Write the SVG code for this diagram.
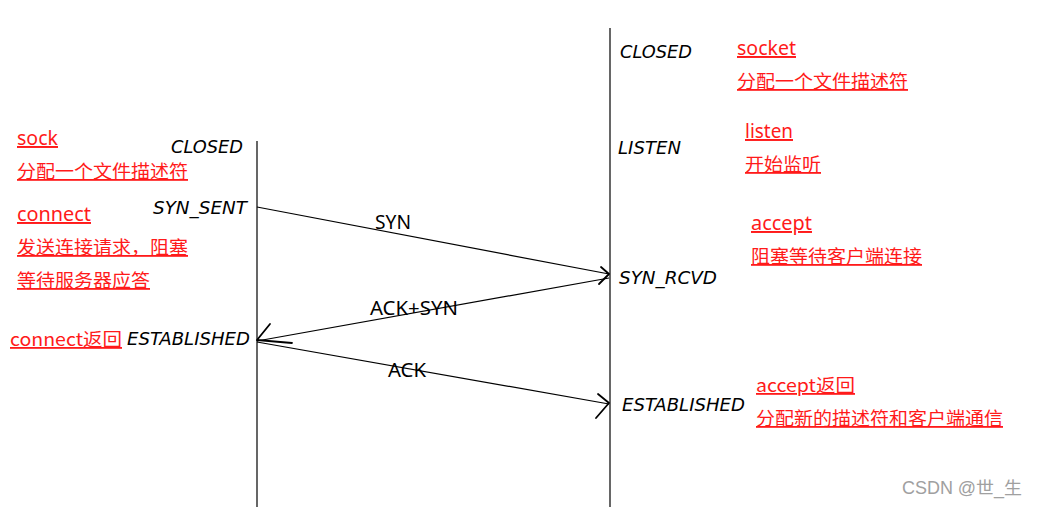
<svg xmlns="http://www.w3.org/2000/svg" width="1038" height="507" viewBox="0 0 1038 507">
<style>
.st{font-family:"DejaVu Sans","Liberation Sans",sans-serif;font-style:italic;font-size:17px;fill:#000}
.rd{font-family:"Noto Sans CJK SC","Noto Sans",sans-serif;font-size:18px;fill:#ff1a1a;text-decoration:underline}
.rl{font-family:"Noto Sans","Noto Sans CJK SC",sans-serif;font-size:19.5px;fill:#ff1a1a;text-decoration:underline}
.lb{font-family:"Noto Sans","Noto Sans CJK SC",sans-serif;font-size:19px;fill:#000}
.ln{stroke:#000;stroke-width:1.2;fill:none}
.ah{stroke:#000;stroke-width:1.8;fill:none;stroke-linecap:round;stroke-linejoin:round}
</style>
<rect width="1038" height="507" fill="#fff"/>
<g id="client-line"><line class="ln" x1="257" y1="141" x2="257" y2="507"/></g>
<g id="server-line"><line class="ln" x1="610" y1="28" x2="610" y2="507"/></g>
<g id="client-states">
<text class="st" x="171" y="153" textLength="72" lengthAdjust="spacingAndGlyphs">CLOSED</text>
<text class="st" x="153" y="214" textLength="94" lengthAdjust="spacingAndGlyphs">SYN_SENT</text>
<text class="st" x="127" y="345" textLength="123" lengthAdjust="spacingAndGlyphs">ESTABLISHED</text>
</g>
<g id="server-states">
<text class="st" x="620" y="58" textLength="72" lengthAdjust="spacingAndGlyphs">CLOSED</text>
<text class="st" x="618" y="154" textLength="63" lengthAdjust="spacingAndGlyphs">LISTEN</text>
<text class="st" x="619" y="284" textLength="98" lengthAdjust="spacingAndGlyphs">SYN_RCVD</text>
<text class="st" x="622" y="411" textLength="123" lengthAdjust="spacingAndGlyphs">ESTABLISHED</text>
</g>
<g id="client-notes">
<text class="rl" x="17" y="145" textLength="41" lengthAdjust="spacingAndGlyphs">sock</text>
<text class="rd" x="17" y="178" textLength="171" lengthAdjust="spacingAndGlyphs">分配一个文件描述符</text>
<text class="rl" x="17" y="221" textLength="74" lengthAdjust="spacingAndGlyphs">connect</text>
<text class="rd" x="17" y="254" textLength="171" lengthAdjust="spacingAndGlyphs">发送连接请求，阻塞</text>
<text class="rd" x="17" y="287" textLength="133" lengthAdjust="spacingAndGlyphs">等待服务器应答</text>
<text class="rd" x="10" y="346" textLength="112" lengthAdjust="spacingAndGlyphs">connect返回</text>
</g>
<g id="server-notes">
<text class="rl" x="737" y="55" textLength="59" lengthAdjust="spacingAndGlyphs">socket</text>
<text class="rd" x="737" y="88" textLength="171" lengthAdjust="spacingAndGlyphs">分配一个文件描述符</text>
<text class="rl" x="745" y="138" textLength="48" lengthAdjust="spacingAndGlyphs">listen</text>
<text class="rd" x="745" y="171" textLength="76" lengthAdjust="spacingAndGlyphs">开始监听</text>
<text class="rl" x="751" y="230" textLength="61" lengthAdjust="spacingAndGlyphs">accept</text>
<text class="rd" x="751" y="263" textLength="171" lengthAdjust="spacingAndGlyphs">阻塞等待客户端连接</text>
<text class="rd" x="756" y="392" textLength="99" lengthAdjust="spacingAndGlyphs">accept返回</text>
<text class="rd" x="756" y="425" textLength="247" lengthAdjust="spacingAndGlyphs">分配新的描述符和客户端通信</text>
</g>
<g id="connectors">
<line class="ln" x1="257" y1="207" x2="609" y2="274"/>
<polyline class="ah" points="601,267 609,274 599,284"/>
<text class="lb" x="375" y="229" textLength="36" lengthAdjust="spacingAndGlyphs">SYN</text>
<line class="ln" x1="609" y1="278" x2="257" y2="341"/>
<polyline class="ah" points="270,324 257,340 292,343"/>
<text class="lb" x="370" y="315" textLength="88" lengthAdjust="spacingAndGlyphs">ACK+SYN</text>
<line class="ln" x1="257" y1="342" x2="609" y2="404"/>
<polyline class="ah" points="598,394 609,403 596,418"/>
<text class="lb" x="388" y="377" textLength="38" lengthAdjust="spacingAndGlyphs">ACK</text>
</g>
<g id="watermark"><text x="902" y="494" textLength="120" lengthAdjust="spacingAndGlyphs" style="font-family:'Liberation Sans','Noto Sans CJK SC',sans-serif;font-size:17.5px;fill:#a0a0a0">CSDN @世_生</text></g>
</svg>
